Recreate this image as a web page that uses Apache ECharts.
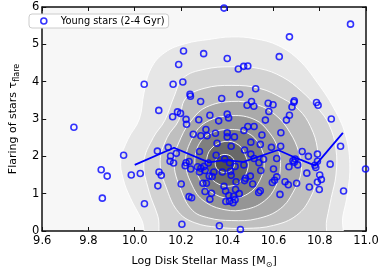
<!DOCTYPE html>
<html><head><meta charset="utf-8">
<script src="https://cdn.jsdelivr.net/npm/echarts@6/dist/echarts.min.js"></script>
<style>html,body{margin:0;padding:0;background:#fff}#c{width:382px;height:274px}</style>
</head><body><div id="c"></div>
<script>
// ---- axis ticks ----
const X_TICKS = [9.6, 9.8, 10.0, 10.2, 10.4, 10.6, 10.8, 11.0];
const Y_TICKS = [0, 1, 2, 3, 4, 5, 6];

// ---- young stars (2-4 Gyr): log disk stellar mass, flaring ----
const youngMass = [
  9.737, 9.952, 9.855, 9.881, 9.985, 10.024, 9.860, 10.042, 10.204, 10.041,
  10.386, 10.933, 10.669, 10.211, 10.298, 10.400, 10.625, 10.190, 10.448, 10.471,
  10.489, 10.166, 10.208, 10.523, 10.239, 10.241, 10.454, 10.376, 10.285, 10.505,
  10.486, 10.515, 10.577, 10.598, 10.690, 10.688, 10.680, 10.580, 10.786, 10.793,
  10.669, 10.104, 10.185, 10.198, 10.164, 10.325, 10.400, 10.406, 10.565, 10.656,
  10.850, 10.363, 10.222, 10.277,
  10.224, 10.253, 10.286, 10.308, 10.313, 10.349, 10.400, 10.400, 10.431, 10.472,
  10.489, 10.516, 10.550, 10.632, 10.356, 10.417, 10.475, 10.502, 10.543, 10.591,
  10.631, 10.724, 10.751, 10.790, 10.890, 10.098, 10.145, 10.155, 10.180, 10.280,
  10.352, 10.502,
  10.845, 10.998, 10.153, 10.168, 10.222, 10.235, 10.218, 10.242, 10.105, 10.115,
  10.272, 10.286, 10.300, 10.280, 10.304, 10.318, 10.389, 10.410, 10.434, 10.472,
  10.516, 10.537, 10.557, 10.614, 10.600, 10.545, 10.667, 10.684, 10.694, 10.690,
  10.705, 10.779, 10.783, 10.790, 10.800, 10.744, 10.414, 10.417, 10.379, 10.342,
  10.322, 10.335, 10.500, 10.614,
  10.479, 10.475, 10.438, 10.510, 10.543, 10.536, 10.100, 10.201, 10.235, 10.246,
  10.295, 10.310, 10.304, 10.332, 10.325, 10.386, 10.393, 10.436, 10.452, 10.427,
  10.407, 10.434, 10.394, 10.410, 10.425, 10.650, 10.664, 10.605, 10.595, 10.628,
  10.700, 10.755, 10.790, 10.807, 10.798, 10.903, 10.366, 10.457
];
const youngFlare = [
  2.78, 2.03, 1.64, 1.47, 1.50, 1.54, 0.88, 0.73, 0.18, 3.93,
  5.97, 5.54, 5.20, 4.82, 4.75, 4.62, 4.67, 4.46, 4.34, 4.41,
  4.42, 3.93, 3.99, 3.81, 3.66, 3.61, 3.66, 3.55, 3.47, 3.47,
  3.37, 3.34, 3.42, 3.38, 3.49, 3.45, 3.32, 3.20, 3.44, 3.37,
  3.10, 3.23, 3.19, 3.15, 3.06, 3.10, 3.13, 3.03, 2.97, 2.97,
  3.00, 2.95, 2.99, 2.98,
  2.86, 2.59, 2.55, 2.72, 2.55, 2.62, 2.63, 2.52, 2.52, 2.69,
  2.80, 2.80, 2.57, 2.63, 2.35, 2.27, 2.17, 2.38, 2.32, 2.24,
  2.27, 2.13, 2.00, 2.06, 2.27, 2.14, 2.24, 2.01, 2.08, 2.13,
  2.03, 2.06,
  1.79, 1.66, 1.87, 1.82, 1.83, 1.86, 1.75, 1.66, 1.58, 1.49,
  1.72, 1.68, 1.73, 1.58, 1.62, 1.82, 1.93, 1.83, 1.73, 1.77,
  1.94, 1.83, 1.92, 1.94, 1.66, 1.62, 1.72, 1.88, 1.93, 1.84,
  1.77, 1.76, 1.70, 1.87, 1.50, 1.55, 1.60, 1.49, 1.58, 1.58,
  1.47, 1.46, 1.47, 1.45,
  1.41, 1.35, 1.32, 1.26, 1.08, 1.03, 1.21, 1.26, 0.92, 0.89,
  1.28, 1.28, 1.06, 1.01, 0.85, 1.20, 1.07, 1.11, 1.00, 0.93,
  0.95, 0.84, 0.79, 0.80, 0.76, 1.32, 1.24, 1.36, 1.30, 0.98,
  1.28, 1.18, 1.31, 1.38, 1.11, 1.07, 0.14, 0.04
];

// ---- running median of the flaring ----
const medianMass  = [10.00, 10.17, 10.32, 10.39, 10.47, 10.62, 10.70, 10.78, 10.90];
const medianFlare = [1.77, 2.23, 1.84, 1.90, 1.85, 2.17, 1.95, 1.75, 2.63];

// ---- density contours (mass, flaring) from outermost to innermost ----
const contour1 = [[10.07,-0.3],[10.03,0.3],[9.98,0.9],[9.95,1.4],[9.94,1.9],[9.97,2.45],[10.02,3.0],[10.04,3.7],[10.07,4.35],[10.13,4.78],[10.22,5.02],[10.32,5.13],[10.42,5.2],[10.52,5.15],[10.62,4.97],[10.71,4.58],[10.79,3.97],[10.86,3.3],[10.91,2.6],[10.93,1.8],[10.92,1.0],[10.9,0.4],[10.88,-0.3]];
const contour2 = [[10.13,-0.3],[10.1,0.4],[10.06,1.1],[10.04,1.85],[10.08,2.5],[10.13,2.96],[10.17,3.6],[10.21,4.1],[10.3,4.33],[10.42,4.4],[10.54,4.35],[10.64,4.12],[10.72,3.75],[10.79,3.3],[10.84,2.85],[10.87,2.2],[10.87,1.5],[10.85,0.9],[10.83,0.3],[10.81,-0.3]];
const contour3 = [[10.19,0.5],[10.14,1.1],[10.11,1.85],[10.14,2.5],[10.19,2.96],[10.22,3.55],[10.3,3.82],[10.42,3.9],[10.54,3.82],[10.64,3.55],[10.71,3.25],[10.76,2.8],[10.79,2.2],[10.79,1.5],[10.76,0.9],[10.70,0.42],[10.6,0.15],[10.48,0.07],[10.36,0.1],[10.26,0.22]];
const contour4 = [[10.25,0.55],[10.2,1.1],[10.17,1.85],[10.2,2.5],[10.25,3.0],[10.31,3.32],[10.42,3.47],[10.53,3.38],[10.61,3.1],[10.67,2.65],[10.71,2.1],[10.72,1.6],[10.69,1.1],[10.63,0.6],[10.53,0.33],[10.42,0.28],[10.32,0.35]];
const contour5 = [[10.3,0.8],[10.25,1.2],[10.22,1.85],[10.25,2.5],[10.31,2.92],[10.42,3.09],[10.52,2.98],[10.58,2.65],[10.62,2.2],[10.63,1.7],[10.61,1.2],[10.56,0.8],[10.48,0.58],[10.39,0.57]];
const contour6 = [[10.33,1.05],[10.28,1.4],[10.26,1.85],[10.28,2.35],[10.33,2.62],[10.41,2.72],[10.49,2.62],[10.54,2.3],[10.56,1.85],[10.54,1.35],[10.49,1.0],[10.41,0.87]];
const contour7 = [[10.35,1.3],[10.32,1.55],[10.31,1.85],[10.33,2.2],[10.39,2.4],[10.45,2.3],[10.48,2.0],[10.49,1.7],[10.46,1.35],[10.41,1.2]];
const contour8 = [[10.39,1.57],[10.36,1.64],[10.348,1.81],[10.36,1.98],[10.39,2.05],[10.42,1.98],[10.432,1.81],[10.42,1.64]];
const contours = [contour1, contour2, contour3, contour4, contour5, contour6, contour7, contour8];

// styles (kept apart from data)
const CONTOUR_FILLS = ['#e6e6e6','#d3d3d3','#bfbfbf','#aaaaaa','#959595','#7f7f7f','#686868','#4e4e4e'];
const FONT = 'DejaVu Sans';

const chart = echarts.init(document.getElementById('c'), null, {renderer: 'canvas'});

const xMin = X_TICKS[0], xMax = X_TICKS[X_TICKS.length - 1];
const xStep = +(X_TICKS[1] - X_TICKS[0]).toFixed(6);
const yMin = Y_TICKS[0], yMax = Y_TICKS[Y_TICKS.length - 1];
const yStep = Y_TICKS[1] - Y_TICKS[0];

const axisLine = {show: true, onZero: false, lineStyle: {color: '#111', width: 1.5}};
const axisTick = {show: true, inside: true, length: 4, lineStyle: {color: '#111', width: 1}};

chart.setOption({
  animation: false,
  backgroundColor: '#ffffff',
  textStyle: {fontFamily: FONT},
  grid: {left: 25, right: 16, top: 7, bottom: 30, show: true, backgroundColor: '#f7f7f7', borderWidth: 0},
  legend: {
    data: [{name: 'Young stars (2-4 Gyr)', icon: 'circle',
            itemStyle: {color: 'rgba(0,0,0,0)', borderColor: '#0000ff', borderWidth: 1.6}}],
    left: 29, top: 14, itemWidth: 6, itemHeight: 6,
    padding: [2, 4, 2, 11],
    backgroundColor: '#ffffff', borderColor: '#cccccc', borderWidth: 1, borderRadius: 3,
    textStyle: {fontSize: 9.8, color: '#000', fontFamily: FONT, padding: [0, 0, 0, 9]}
  },
  xAxis: [{
    type: 'value', min: xMin, max: xMax, interval: xStep, position: 'bottom',
    axisLine, axisTick, splitLine: {show: false},
    axisLabel: {fontSize: 11.5, color: '#000', fontFamily: FONT, margin: 4,
                formatter: v => v.toFixed(1)},
    name: 'Log Disk Stellar Mass [M{sub|⊙}]', nameLocation: 'middle', nameGap: 23,
    nameTextStyle: {fontSize: 11, color: '#000', fontFamily: FONT,
                    rich: {sub: {fontSize: 8, color: '#000', fontFamily: FONT, padding: [7, 0, 0, 0]}}}
  }, {
    type: 'value', min: xMin, max: xMax, interval: xStep, position: 'top',
    axisLine, axisTick, splitLine: {show: false}, axisLabel: {show: false}
  }],
  yAxis: [{
    type: 'value', min: yMin, max: yMax, interval: yStep, position: 'left',
    axisLine, axisTick, splitLine: {show: false},
    axisLabel: {fontSize: 11.5, color: '#000', fontFamily: FONT, margin: 3},
    name: 'Flaring of stars τ{sub|flare}', nameLocation: 'middle', nameRotate: 90, nameGap: 20,
    nameTextStyle: {fontSize: 11, color: '#000', fontFamily: FONT,
                    rich: {sub: {fontSize: 8, color: '#000', fontFamily: FONT, padding: [7, 0, 0, 0]}}}
  }, {
    type: 'value', min: yMin, max: yMax, interval: yStep, position: 'right',
    axisLine, axisTick, splitLine: {show: false}, axisLabel: {show: false}
  }],
  series: [{
    type: 'custom', name: 'density', clip: true, silent: true, z: 1,
    data: contours.map((c, i) => [c[0][0], c[0][1], i]),
    renderItem: (params, api) => {
      const poly = contours[params.dataIndex];
      return {
        type: 'polygon',
        shape: {points: poly.map(p => api.coord(p)), smooth: 0.4},
        style: {fill: CONTOUR_FILLS[params.dataIndex], stroke: '#ffffff', lineWidth: 0.9}
      };
    }
  }, {
    type: 'scatter', name: 'Young stars (2-4 Gyr)', z: 3,
    data: youngMass.map((m, i) => [m, youngFlare[i]]),
    symbol: 'circle', symbolSize: 6,
    itemStyle: {color: 'rgba(0,0,0,0)', borderColor: '#0000ff', borderWidth: 1.6}
  }, {
    type: 'line', name: 'median', z: 4,
    data: medianMass.map((m, i) => [m, medianFlare[i]]),
    showSymbol: false, symbol: 'none',
    lineStyle: {color: '#0000ff', width: 1.8}
  }]
});
</script></body></html>
